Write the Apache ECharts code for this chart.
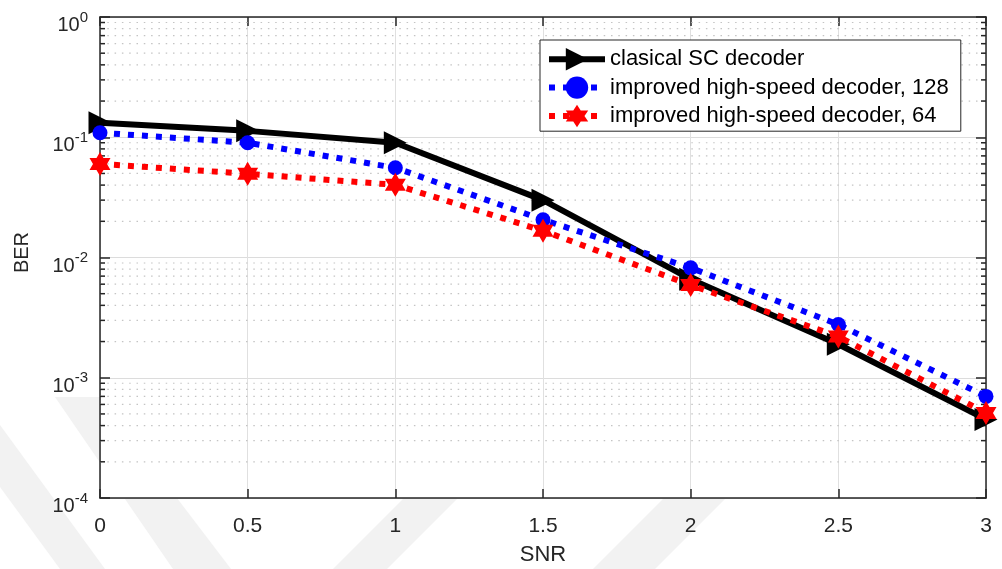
<!DOCTYPE html>
<html>
<head>
<meta charset="utf-8">
<script src="https://cdn.jsdelivr.net/npm/echarts@6/dist/echarts.min.js"></script>
<style>
  html, body { margin: 0; padding: 0; background: #ffffff; }
  #chart { width: 1002px; height: 569px; }
</style>
</head>
<body>
<div id="chart"></div>
<script>
// SNR points on the x axis
const snr = [0, 0.5, 1, 1.5, 2, 2.5, 3];
// Bit error rates per decoder
const berClassicSC = [0.132, 0.113, 0.090, 0.030, 0.0066, 0.0019, 0.00045];
const berFast128 = [0.109, 0.090, 0.0557, 0.0206, 0.0082, 0.00277, 0.0007];
const berFast64 = [0.060, 0.0497, 0.0402, 0.0167, 0.0059, 0.0022, 0.00051];
const seriesNames = [
  'clasical SC decoder',
  'improved high-speed decoder, 128',
  'improved high-speed decoder, 64'
];
const xTicks = [0, 0.5, 1, 1.5, 2, 2.5, 3];

// minor log gridlines: 2..9 within each decade from 1e-4 to 1
const minorLevels = [];
for (let e = -4; e < 0; e++) {
  for (let m = 2; m <= 9; m++) minorLevels.push(+(m * Math.pow(10, e)).toPrecision(3));
}

const FONT = 'Liberation Sans, Arial, sans-serif';
const AXIS_COLOR = '#262626';
const hexagram = 'path://M0,-10 L2.887,-5 L8.66,-5 L5.774,0 L8.66,5 L2.887,5 L0,10 L-2.887,5 L-8.66,5 L-5.774,0 L-8.66,-5 L-2.887,-5 Z';

const pairs = (ys) => snr.map((x, i) => [x, ys[i]]);

// faint diagonal bands in the page background
const bandFill = '#f2f2f2';
const bands = [
  [[55, 397], [100, 397], [231, 569], [173, 569]],
  [[0, 425], [105, 569], [60, 569], [0, 487]],
  [[333, 569], [387, 569], [460, 496], [406, 496]],
  [[593, 569], [655, 569], [728, 496], [666, 496]]
];

const chart = echarts.init(document.getElementById('chart'), null, { renderer: 'canvas' });

const option = {
  backgroundColor: '#ffffff',
  animation: false,
  textStyle: { fontFamily: FONT },
  graphic: bands.map((pts) => ({
    type: 'polygon',
    z: -10,
    silent: true,
    shape: { points: pts },
    style: { fill: bandFill }
  })),
  grid: {
    left: 100, right: 16, top: 17, bottom: 71,
    outerBoundsMode: 'none',
    containLabel: false,
    show: true, backgroundColor: '#ffffff', borderWidth: 0
  },
  legend: {
    data: seriesNames,
    orient: 'vertical',
    left: 540,
    top: 40,
    itemWidth: 56,
    itemHeight: 28,
    itemGap: 6,
    padding: [8, 12, 4, 6],
    backgroundColor: '#ffffff',
    borderColor: '#262626',
    borderWidth: 1,
    borderRadius: 0,
    lineStyle: { width: 'inherit' },
    textStyle: { fontFamily: FONT, fontSize: 22, color: '#000000' }
  },
  xAxis: [
    {
      type: 'value',
      min: 0,
      max: 3,
      interval: 0.5,
      name: 'SNR',
      nameLocation: 'middle',
      nameGap: 46,
      nameTextStyle: { fontFamily: FONT, fontSize: 22, color: AXIS_COLOR },
      axisLine: { show: true, onZero: false, lineStyle: { color: AXIS_COLOR, width: 1.5 } },
      axisTick: { show: true, inside: true, length: 9, lineStyle: { color: AXIS_COLOR, width: 1.5 } },
      axisLabel: {
        margin: 18,
        fontFamily: FONT,
        fontSize: 21,
        color: AXIS_COLOR,
        customValues: xTicks,
        formatter: (v) => String(v)
      },
      splitLine: { show: true, lineStyle: { color: '#e0e0e0', width: 1 } }
    },
    {
      type: 'value',
      position: 'top',
      min: 0,
      max: 3,
      interval: 0.5,
      axisLine: { show: true, onZero: false, lineStyle: { color: AXIS_COLOR, width: 1.5 } },
      axisTick: { show: true, inside: true, length: 9, lineStyle: { color: AXIS_COLOR, width: 1.5 } },
      axisLabel: { show: false },
      splitLine: { show: false }
    }
  ],
  yAxis: [
    {
      type: 'log',
      logBase: 10,
      min: 0.0001,
      max: 1,
      name: 'BER',
      nameLocation: 'middle',
      nameGap: 68,
      nameRotate: 90,
      nameTextStyle: { fontFamily: FONT, fontSize: 20, color: AXIS_COLOR, padding: [0, 0, 0, 10] },
      axisLine: { show: true, onZero: false, lineStyle: { color: AXIS_COLOR, width: 1.5 } },
      axisTick: { show: true, inside: true, length: 10, lineStyle: { color: AXIS_COLOR, width: 1.5 } },
      axisLabel: {
        margin: 12,
        color: AXIS_COLOR,
        padding: [17, 0, 0, 0],
        formatter: (v) => {
          const e = Math.round(Math.log10(v));
          return '{b|10}{s|' + e + '}';
        },
        rich: {
          b: { fontFamily: FONT, fontSize: 20, color: AXIS_COLOR },
          s: { fontFamily: FONT, fontSize: 15, color: AXIS_COLOR, padding: [0, 0, 16, 0] }
        }
      },
      splitLine: { show: true, lineStyle: { color: '#dcdcdc', width: 1 } }
    },
    {
      type: 'log',
      logBase: 10,
      min: 0.0001,
      max: 1,
      position: 'right',
      axisLine: { show: true, onZero: false, lineStyle: { color: AXIS_COLOR, width: 1.5 } },
      axisTick: { show: true, inside: true, length: 10, lineStyle: { color: AXIS_COLOR, width: 1.5 } },
      axisLabel: { show: false },
      splitLine: { show: false }
    }
  ],
  series: [
    {
      // dotted minor gridlines with short ticks on both side axes
      type: 'custom',
      name: 'minor grid',
      silent: true,
      z: 1,
      xAxisIndex: 0,
      yAxisIndex: 0,
      encode: { x: 0, y: 1 },
      data: minorLevels.map((v) => [0, v]),
      renderItem: (params, api) => {
        const v = api.value(1);
        const a = api.coord([0, v]);
        const b = api.coord([3, v]);
        return {
          type: 'group',
          children: [
            { type: 'line', shape: { x1: a[0], y1: a[1], x2: b[0], y2: b[1] },
              style: { stroke: '#c4c4c4', lineWidth: 1.2, lineDash: [1.5, 5.8] } },
            { type: 'line', shape: { x1: a[0], y1: a[1], x2: a[0] + 5, y2: a[1] },
              style: { stroke: AXIS_COLOR, lineWidth: 1.5 } },
            { type: 'line', shape: { x1: b[0] - 5, y1: b[1], x2: b[0], y2: b[1] },
              style: { stroke: AXIS_COLOR, lineWidth: 1.5 } }
          ]
        };
      }
    },
    {
      name: seriesNames[0],
      type: 'line',
      z: 3,
      data: pairs(berClassicSC),
      symbol: 'triangle',
      symbolRotate: -90,
      symbolSize: 23,
      clip: false,
      color: '#000000',
      itemStyle: { color: '#000000' },
      lineStyle: { color: '#000000', width: 6, type: 'solid' }
    },
    {
      name: seriesNames[1],
      type: 'line',
      z: 4,
      data: pairs(berFast128),
      symbol: 'circle',
      symbolSize: 15,
      clip: false,
      color: '#0000ff',
      itemStyle: { color: '#0000ff' },
      lineStyle: { color: '#0000ff', width: 6, type: [6, 8], cap: 'butt' }
    },
    {
      name: seriesNames[2],
      type: 'line',
      z: 5,
      data: pairs(berFast64),
      symbol: hexagram,
      symbolSize: [21, 24],
      clip: false,
      color: '#ff0000',
      itemStyle: { color: '#ff0000' },
      lineStyle: { color: '#ff0000', width: 6, type: [6, 8], cap: 'butt' }
    }
  ]
};

chart.setOption(option);
</script>
</body>
</html>
